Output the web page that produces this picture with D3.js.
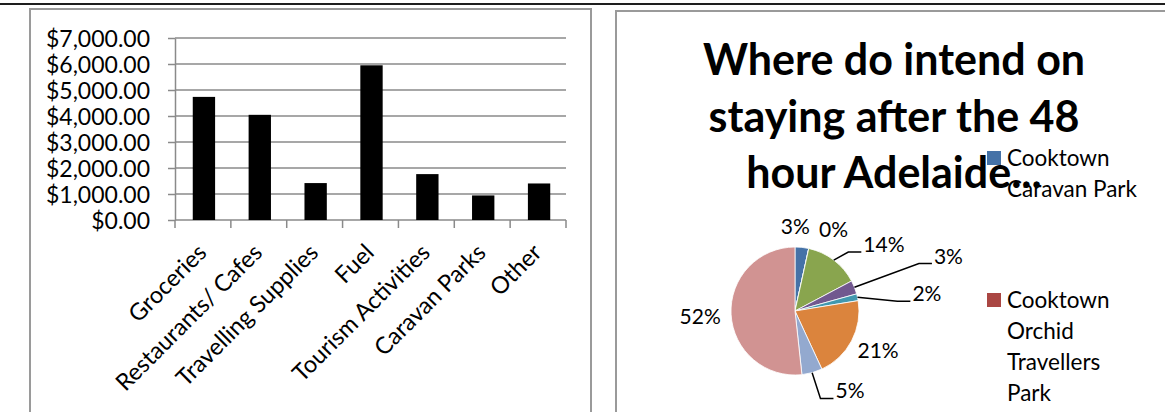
<!DOCTYPE html>
<html>
<head>
<meta charset="utf-8">
<script src="https://cdn.jsdelivr.net/npm/d3@7"></script>
<style>
  body { margin: 0; background: #fff; }
  svg { display: block; font-family: Lato, "Noto Sans", sans-serif; }
</style>
</head>
<body>
<div id="chart"></div>
<script>
// bar chart data (spend by category)
const spendCategories = ["Groceries", "Restaurants/ Cafes", "Travelling Supplies", "Fuel",
                         "Tourism Activities", "Caravan Parks", "Other"];
const spendValues = [4735, 4045, 1420, 5950, 1765, 945, 1405];
const spendTicks = [0, 1000, 2000, 3000, 4000, 5000, 6000, 7000];

// pie chart data (responses, clockwise from 12 o'clock)
const stayValues = [2, 0, 8, 2, 1, 12, 3, 30];
const stayColors = ["#4572A7", "#AA4643", "#89A54E", "#71588F", "#4198AF", "#DB843D", "#93A9CF", "#D19392"];
const legendNames = [["Cooktown", "Caravan Park"], ["Cooktown", "Orchid", "Travellers", "Park"]];
const titleLines = ["Where do intend on", "staying after the 48", "hour Adelaide..."];

// best-fit style label placement: angle shift (deg) and distance from centre, leader flag
const labelShift = [-6, 13, 16, 2, 5, -2.5, -19, 0];
const labelDist = [85, 90, 111, 163, 133, 92, 97, 95];
const labelLeader = [false, false, true, true, true, false, true, false];

const width = 1165,
      height = 412;

const svg = d3.select("#chart")
  .append("svg")
    .attr("width", width)
    .attr("height", height);

// page rule along the top
svg.append("line")
  .attr("x1", 0).attr("x2", width)
  .attr("y1", 4).attr("y2", 4)
  .attr("stroke", "#1e1e1e")
  .attr("stroke-width", 2);

// chart frames
svg.append("rect")
  .attr("x", 30).attr("y", 9)
  .attr("width", 561).attr("height", 440)
  .attr("fill", "none")
  .attr("stroke", "#9a9a9a")
  .attr("stroke-width", 2);

svg.append("rect")
  .attr("x", 616).attr("y", 11)
  .attr("width", 600).attr("height", 440)
  .attr("fill", "none")
  .attr("stroke", "#9a9a9a")
  .attr("stroke-width", 2);

// ---------- bar chart ----------
const x = d3.scaleBand()
  .domain(spendCategories)
  .range([175, 566]);

const y = d3.scaleLinear()
  .domain([0, 7000])
  .range([220, 38]);

const bar = svg.append("g");

// gridlines
bar.append("g")
  .selectAll("line")
  .data(spendTicks.slice(1))
  .join("line")
    .attr("x1", 175).attr("x2", 566)
    .attr("y1", d => y(d)).attr("y2", d => y(d))
    .attr("stroke", "#8a8a8a")
    .attr("stroke-width", 1.5);

const money = d3.format("$,.2f");

const yAxis = bar.append("g")
  .attr("transform", "translate(175,0)")
  .call(d3.axisLeft(y).tickValues(spendTicks).tickSize(7).tickSizeOuter(0).tickFormat(money));

yAxis.select(".domain").attr("stroke", "#8a8a8a").attr("stroke-width", 1.5);
yAxis.selectAll(".tick line").attr("stroke", "#8a8a8a").attr("stroke-width", 1.5);
yAxis.selectAll(".tick text")
  .attr("x", -25)
  .attr("dy", "0.36em")
  .attr("fill", "#000")
  .style("font-family", "Lato")
  .style("font-size", "23px");

// x axis line and boundary ticks
bar.append("line")
  .attr("x1", 175).attr("x2", 566)
  .attr("y1", y(0)).attr("y2", y(0))
  .attr("stroke", "#8a8a8a")
  .attr("stroke-width", 1.5);

const bounds = spendCategories.map(d => x(d)).concat([x.range()[1]]);
bar.append("g")
  .selectAll("line")
  .data(bounds)
  .join("line")
    .attr("x1", d => d).attr("x2", d => d)
    .attr("y1", y(0)).attr("y2", y(0) + 8)
    .attr("stroke", "#8a8a8a")
    .attr("stroke-width", 1.5);

// bars
const barW = x.bandwidth() * 0.4;
bar.append("g")
  .selectAll("rect")
  .data(spendValues)
  .join("rect")
    .attr("x", (d, i) => x(spendCategories[i]) + x.bandwidth() / 2 - barW / 2 + 1)
    .attr("y", d => y(d))
    .attr("width", barW)
    .attr("height", d => y(0) - y(d))
    .attr("fill", "#000");

// rotated category labels
bar.append("g")
  .selectAll("text")
  .data(spendCategories)
  .join("text")
    .attr("transform", d => `translate(${x(d) + x.bandwidth() / 2 + 5},${y(0) + 34}) rotate(-45)`)
    .attr("text-anchor", "end")
    .style("font-size", "23.5px")
    .text(d => d);

// ---------- pie chart ----------
const cx = 795, cy = 311, r = 64;

const title = svg.append("text")
  .attr("text-anchor", "middle")
  .style("font-weight", "bold")
  .style("font-size", "43px");

title.selectAll("tspan")
  .data(titleLines)
  .join("tspan")
    .attr("x", 894)
    .attr("y", (d, i) => 75 + i * 56.5)
    .text(d => d);

const pie = d3.pie().sort(null).value(d => d);
const arcs = pie(stayValues);
const arc = d3.arc().innerRadius(0).outerRadius(r);
const total = d3.sum(stayValues);
const pct = d3.format(".0%");

const pg = svg.append("g").attr("transform", `translate(${cx},${cy})`);

pg.selectAll("path")
  .data(arcs)
  .join("path")
    .attr("d", arc)
    .attr("fill", (d, i) => stayColors[i])
    .attr("stroke", "#fff")
    .attr("stroke-width", 0.8);

const rad = Math.PI / 180;
const labels = pg.append("g")
  .selectAll("text")
  .data(arcs)
  .join("text")
    .attr("text-anchor", "middle")
    .attr("dy", "0.36em")
    .style("font-size", "21px")
    .each(function(d, i) {
      const a = (d.startAngle + d.endAngle) / 2 + labelShift[i] * rad;
      d.lx = Math.sin(a) * labelDist[i];
      d.ly = -Math.cos(a) * labelDist[i];
    })
    .attr("x", d => d.lx)
    .attr("y", d => d.ly)
    .text(d => pct(d.value / total));

// leader lines
labels.each(function(d, i) {
  if (!labelLeader[i]) return;
  const w = this.getComputedTextLength();
  const a = (d.startAngle + d.endAngle) / 2;
  const left = d.lx - w / 2, bottom = d.ly + 7.5;
  pg.append("path")
    .attr("d", `M${Math.sin(a) * r},${-Math.cos(a) * r}L${left - 15},${bottom}L${left - 2},${bottom}`)
    .attr("fill", "none")
    .attr("stroke", "#000")
    .attr("stroke-width", 1.5);
});

// legend (only the entries that fit inside the frame)
const legendTop = [151, 293];
const lg = svg.append("g");
legendNames.forEach((lines, i) => {
  lg.append("rect")
    .attr("x", 987).attr("y", legendTop[i])
    .attr("width", 14).attr("height", 14)
    .attr("fill", stayColors[i]);
  lg.append("text")
    .style("font-size", "22.5px")
    .selectAll("tspan")
    .data(lines)
    .join("tspan")
      .attr("x", 1007)
      .attr("y", (d, j) => legendTop[i] + 15 + j * 31)
      .text(d => d);
});
</script>
</body>
</html>
